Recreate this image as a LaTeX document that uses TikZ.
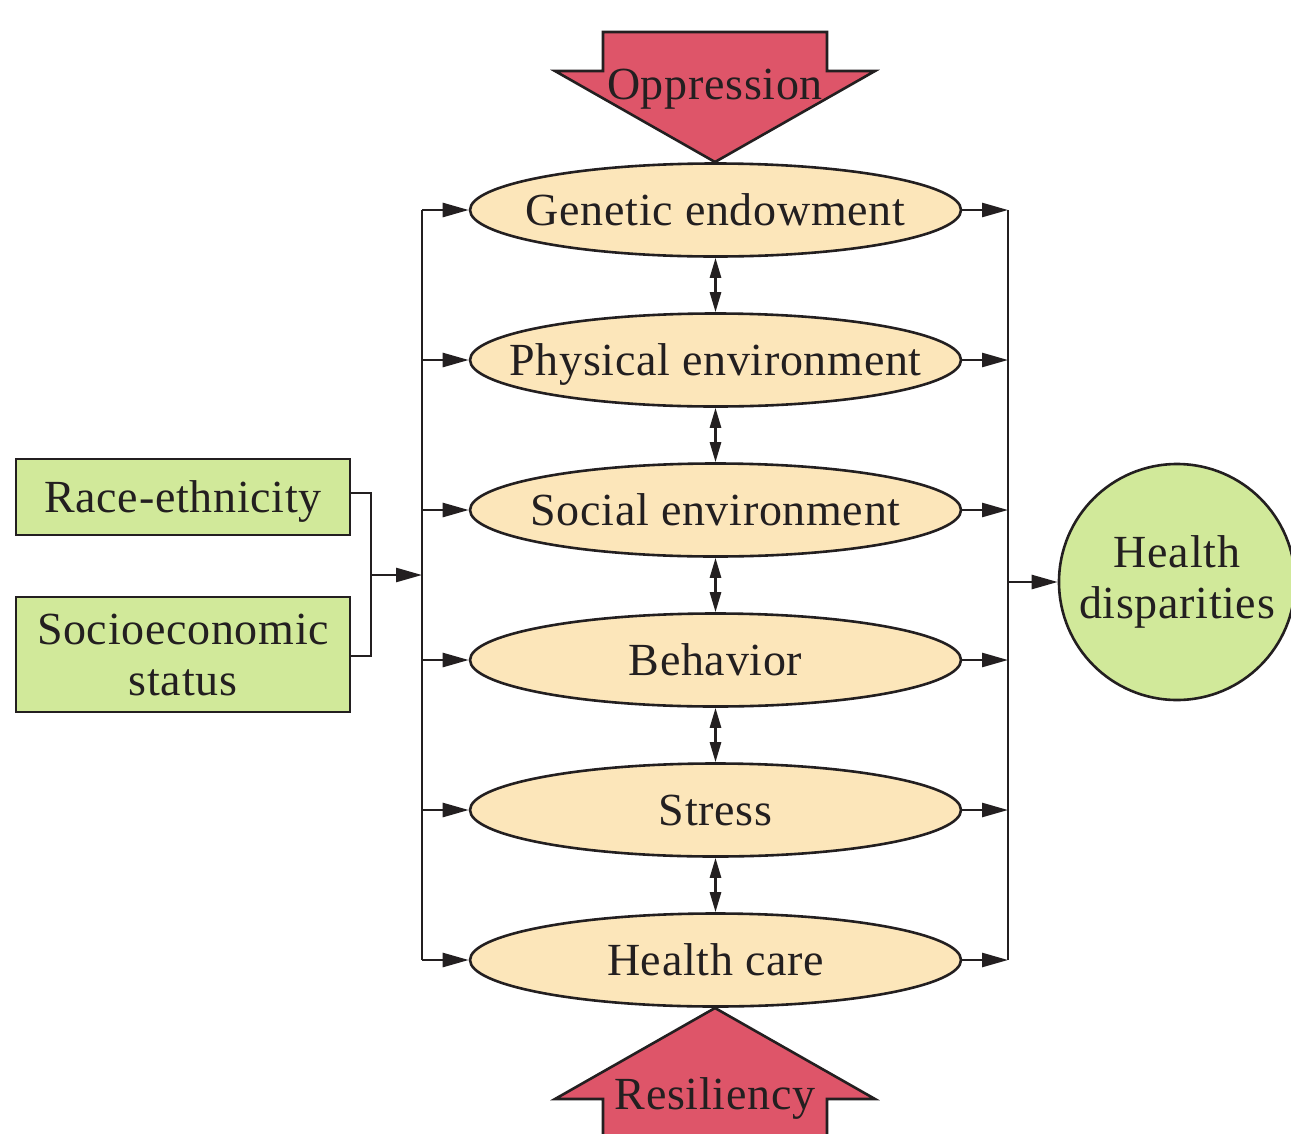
\documentclass[tikz,border=0pt]{standalone}
\usepackage{fontspec}
\setmainfont[LetterSpace=1.5]{Liberation Serif}
\usetikzlibrary{shapes.geometric,arrows.meta}
\definecolor{ink}{HTML}{231F20}
\definecolor{tan}{HTML}{FCE6BA}
\definecolor{lgreen}{HTML}{D1E99A}
\definecolor{rose}{HTML}{DE5569}
\newcommand{\zw}[1]{\makebox[0pt]{#1}}
\tikzset{
  lbl/.style={font=\fontsize{46}{51}\selectfont, text=ink, inner sep=0pt},
  factor/.style={lbl, text height=30pt, text depth=0pt, ellipse, draw=ink, fill=tan, line width=2.6pt, minimum width=491pt, minimum height=93pt},
  gbox/.style={lbl, rectangle, draw=ink, fill=lgreen, line width=2.6pt, align=center},
  outcome/.style={lbl, circle, draw=ink, fill=lgreen, line width=2.6pt, minimum size=236pt, align=center},
  bigarrow/.style={draw=ink, fill=rose, line width=2.6pt, line join=miter},
  conn/.style={draw=ink, line width=2.6pt},
  tri/.style={conn, -{Triangle[length=26pt,width=14pt]}},
  dtri/.style={conn, {Triangle[length=20pt,width=11pt]}-{Triangle[length=20pt,width=11pt]}}
}
\begin{document}
\begin{tikzpicture}[x=1pt,y=-1pt]
\useasboundingbox (0,0) rectangle (1291,1133);
\clip (0,0) rectangle (1291,1133);
\fill[white] (0,0) rectangle (1291,1133);

% big arrows
\draw[bigarrow] (603,32) -- (827,32) -- (827,71) -- (875,71) -- (715,162) -- (555,71) -- (603,71) -- cycle;
\node[lbl, anchor=base] (opp) at (715,99) {Oppression};
\draw[bigarrow] (603,1145) -- (603,1099) -- (555,1099) -- (715,1008) -- (875,1099) -- (827,1099) -- (827,1145);
\node[lbl, anchor=base] (res) at (715,1109) {Resiliency};

% factors
\node[factor] (e1) at (715.5,210) {\zw{Genetic endowment}};
\node[factor] (e2) at (715.5,360) {\zw{Physical environment}};
\node[factor] (e3) at (715.5,510) {\zw{Social environment}};
\node[factor] (e4) at (715.5,660) {\zw{Behavior}};
\node[factor] (e5) at (715.5,810) {\zw{Stress}};
\node[factor] (e6) at (715.5,960) {\zw{Health care}};

\foreach \a/\b in {e1/e2,e2/e3,e3/e4,e4/e5,e5/e6}
  \draw[dtri] (\a.south) -- (\b.north);

% buses
\coordinate (lt) at (422,210);
\coordinate (lb) at (422,960);
\coordinate (rt) at (1008,210);
\coordinate (rb) at (1008,960);
\draw[conn] (lt) -- (lb);
\draw[conn] (rt) -- (rb);
\foreach \e in {e1,e2,e3,e4,e5,e6}{
  \draw[tri] (\e.west -| lt) -- (\e.west);
  \draw[tri] (\e.east) -- (\e.east -| rt);
}

% green boxes
\node[gbox, text height=30pt, text depth=0pt, minimum width=334pt, minimum height=76pt] (race) at (183,497) {Race-ethnicity};
\node[gbox, minimum width=334pt, minimum height=115pt] (ses) at (183,654.5) {Socioeconomic\\status};
\coordinate (j1) at (371,493);
\coordinate (j2) at (371,656);
\coordinate (jm) at (371,575);
\coordinate (lm) at (422,575);
\draw[conn] (race.east |- j1) -- (j1) -- (j2) -- (ses.east |- j2);
\draw[tri] (jm) -- (lm);

% outcome
\node[outcome] (hd) at (1177,582) {Health\\disparities};
\coordinate (rm) at (1008,582);
\draw[tri] (rm) -- (hd.west);
\end{tikzpicture}
\end{document}
